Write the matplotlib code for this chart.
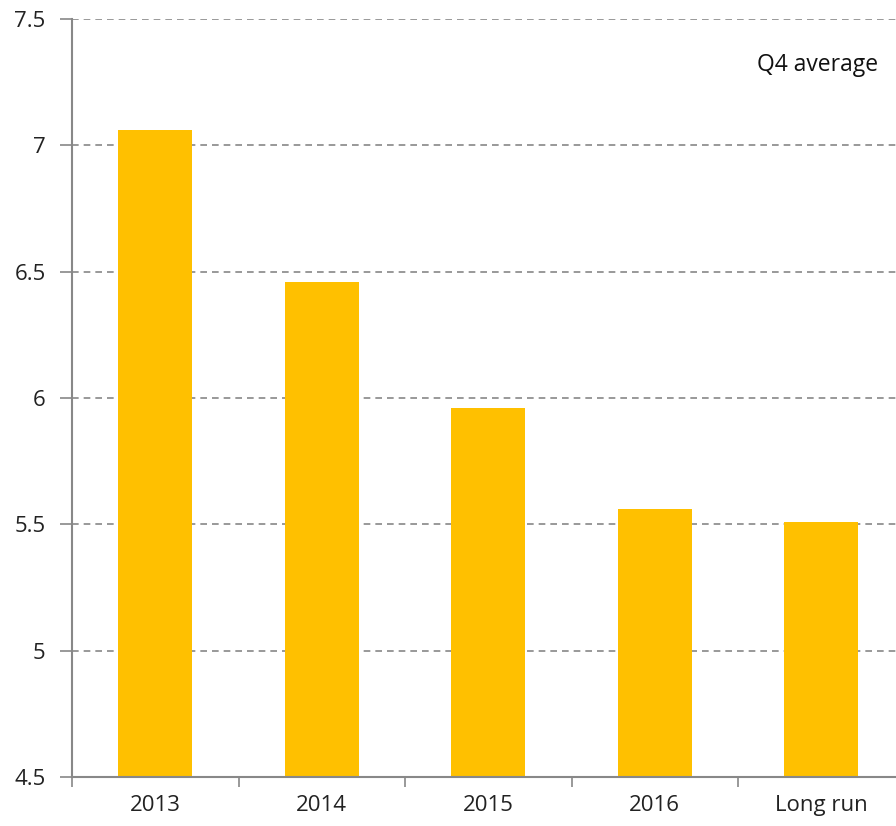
import matplotlib
matplotlib.use("Agg")
import matplotlib.pyplot as plt

categories = ["2013", "2014", "2015", "2016", "Long run"]
values = [7.06, 6.46, 5.96, 5.56, 5.51]
yticks = [4.5, 5, 5.5, 6, 6.5, 7, 7.5]
ytick_labels = ["4.5", "5", "5.5", "6", "6.5", "7", "7.5"]

plt.rcParams['font.family'] = ['Open Sans', 'DejaVu Sans']
fig = plt.figure(figsize=(8.96, 8.26), dpi=100)
ax = fig.add_axes([72/896, 49/826, 832.5/896, (777-19)/826])

x = list(range(len(categories)))
ax.bar(x, [v - 4.5 for v in values], bottom=4.5, width=0.445, color="#FFC000", zorder=3)

ax.set_xlim(-0.5, len(categories) - 0.5)
ax.set_ylim(4.5, 7.5)
ax.set_yticks(yticks)
ax.set_yticklabels(ytick_labels, fontsize=16, color="#222222")
ax.set_xticks(x)
ax.set_xticklabels(categories, fontsize=16, color="#222222")
ax.tick_params(axis='x', length=0, pad=13)
ax.set_xticks([i - 0.5 for i in range(len(categories) + 1)], minor=True)
ax.tick_params(axis='x', which='minor', length=7, color="#888888", width=1.2)
ax.tick_params(axis='y', length=9, color="#888888", width=1.2, pad=10)

ax.grid(axis='y', linestyle=(0, (4, 3)), color="#888888", linewidth=1.2, zorder=0)
for s in ["top", "right"]:
    ax.spines[s].set_visible(False)
for s in ["left", "bottom"]:
    ax.spines[s].set_color("#888888")
    ax.spines[s].set_linewidth(1.5)
ax.spines["bottom"].set_zorder(4)

ax.text(878/896, (826-65)/826, "Q4 average", transform=fig.transFigure, ha="right", va="center",
        fontsize=16.5, color="#111111")

fig.savefig("out.png", dpi=100)
